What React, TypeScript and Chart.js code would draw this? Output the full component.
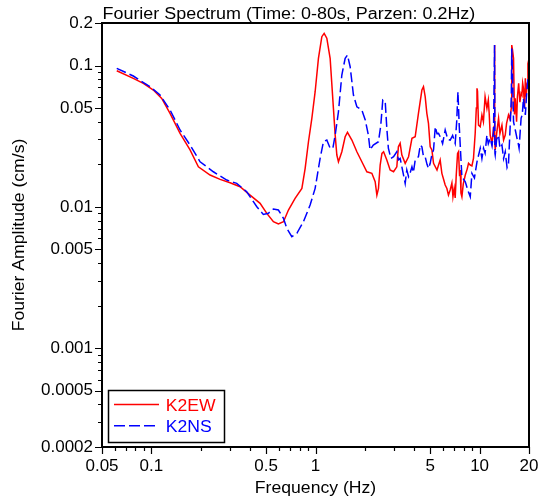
import React, { useEffect, useRef } from 'react';
import { Chart, registerables } from 'chart.js';

Chart.register(...registerables);

const chartTitle = 'Fourier Spectrum (Time: 0-80s, Parzen: 0.2Hz)';
const xAxisTitle = 'Frequency (Hz)';
const yAxisTitle = 'Fourier Amplitude (cm/s)';
const seriesNames = ['K2EW', 'K2NS'];

const ewFreq = [
  0.0615, 0.0776, 0.0893, 0.1028, 0.1156, 0.1299, 0.1495, 0.172, 0.1933, 0.2278,
  0.2622, 0.3017, 0.347, 0.3994, 0.4596, 0.505, 0.554, 0.594, 0.638, 0.684,
  0.751, 0.826, 0.865, 0.906, 0.95, 0.995, 1.042, 1.093, 1.129, 1.172,
  1.228, 1.286, 1.318, 1.349, 1.38, 1.447, 1.516, 1.566, 1.666, 1.787,
  1.916, 2.056, 2.205, 2.31, 2.366, 2.42, 2.478, 2.54, 2.6, 2.72,
  2.85, 2.99, 3.13, 3.2, 3.28, 3.36, 3.52, 3.69, 3.87, 4.05,
  4.24, 4.45, 4.55, 4.66, 4.77, 4.88, 5.0, 5.12, 5.24, 5.5,
  5.75, 5.89, 6.05, 6.17, 6.32, 6.46, 6.62, 6.78, 6.88, 7.0,
  7.1, 7.2, 7.34, 7.44, 7.55, 7.62, 7.7, 7.8, 7.95, 8.18,
  8.4, 8.56, 8.77, 8.98, 9.18, 9.4, 9.55, 9.64, 9.71, 9.85,
  10.09, 10.33, 10.55, 10.8, 11.08, 11.3, 11.45, 11.6, 11.9, 12.16,
  12.3, 12.33, 12.38, 12.45, 12.7, 13.05, 13.3, 13.68, 14.0, 14.33,
  14.6, 15.0, 15.3, 15.6, 15.7, 15.85, 16.1, 16.3, 16.5, 16.8,
  17.0, 17.3, 17.6, 17.9, 18.1, 18.3, 18.5, 18.8, 19.0, 19.2,
  19.5, 19.7, 19.9,
];
const ewAmp = [
  0.0919, 0.0812, 0.0749, 0.0671, 0.0586, 0.0459, 0.0331, 0.0253, 0.0192, 0.0168,
  0.01566, 0.01482, 0.01389, 0.01212, 0.0106, 0.009, 0.00785, 0.00756, 0.00785, 0.0095,
  0.0115, 0.01352, 0.01874, 0.0289, 0.0423, 0.0653, 0.1125, 0.16, 0.169, 0.156,
  0.1125, 0.0498, 0.0322, 0.02327, 0.02085, 0.02456, 0.03135, 0.0337, 0.0297, 0.02456,
  0.02085, 0.01772, 0.01727, 0.01506, 0.01212, 0.01352, 0.01977, 0.0239, 0.02456, 0.02144,
  0.01824, 0.01772, 0.0192, 0.0266, 0.02816, 0.02327, 0.02033, 0.02264, 0.03055, 0.03135,
  0.0459, 0.0671, 0.0708, 0.0602, 0.0459, 0.039, 0.0266, 0.0253, 0.02033, 0.01824,
  0.02144, 0.01727, 0.0155, 0.01428, 0.0135, 0.01212, 0.01316, 0.01475, 0.0118, 0.0135,
  0.01155, 0.0165, 0.0239, 0.02456, 0.0165, 0.01824, 0.0125, 0.0118, 0.0145, 0.0168,
  0.0185, 0.02033, 0.01977, 0.0195, 0.02216, 0.0331, 0.05, 0.069, 0.066, 0.0379,
  0.0369, 0.0447, 0.04, 0.0602, 0.0498, 0.057, 0.045, 0.0322, 0.02816, 0.0361,
  0.035, 0.14, 0.03, 0.0253, 0.033, 0.0423, 0.033, 0.0379, 0.0297, 0.0322,
  0.039, 0.0447, 0.042, 0.05, 0.1397, 0.13, 0.1125, 0.045, 0.0586, 0.04,
  0.06, 0.0749, 0.055, 0.0636, 0.0619, 0.075, 0.069, 0.05, 0.0812, 0.0602,
  0.075, 0.0981, 0.093,
];

const nsFreq = [
  0.0615, 0.0776, 0.0981, 0.1129, 0.1299, 0.1495, 0.172, 0.198, 0.2386, 0.288,
  0.331, 0.381, 0.439, 0.481, 0.516, 0.554, 0.594, 0.638, 0.669, 0.717,
  0.77, 0.844, 0.927, 0.995, 1.067, 1.118, 1.172, 1.228, 1.276, 1.318,
  1.38, 1.447, 1.516, 1.566, 1.626, 1.703, 1.787, 1.916, 2.01, 2.1,
  2.15, 2.25, 2.42, 2.5, 2.57, 2.66, 2.72, 2.78, 2.88, 2.99,
  3.13, 3.2, 3.28, 3.36, 3.45, 3.52, 3.6, 3.69, 3.78, 3.87,
  3.95, 4.05, 4.24, 4.35, 4.45, 4.55, 4.66, 4.78, 4.88, 5.0,
  5.12, 5.24, 5.37, 5.5, 5.62, 5.75, 5.95, 6.17, 6.4, 6.62,
  6.85, 7.1, 7.25, 7.38, 7.51, 7.65, 7.8, 8.18, 8.5, 8.77,
  8.98, 9.3, 9.64, 10.09, 10.33, 10.57, 10.8, 11.08, 11.3, 11.6,
  11.9, 12.16, 12.33, 12.4, 12.45, 12.7, 13.05, 13.3, 13.68, 14.0,
  14.33, 14.7, 15.0, 15.37, 15.6, 15.7, 15.85, 16.1, 16.5, 16.9,
  17.2, 17.4, 17.9, 18.2, 18.5, 19.0, 19.3, 19.7, 20,
];
const nsAmp = [
  0.0956, 0.0843, 0.0708, 0.0619, 0.0485, 0.035, 0.0274, 0.02085, 0.01772, 0.01548,
  0.01467, 0.0128, 0.01002, 0.00885, 0.009, 0.00966, 0.0095, 0.0083, 0.00705, 0.00615,
  0.0065, 0.00785, 0.0103, 0.01352, 0.02205, 0.0289, 0.0297, 0.026, 0.026, 0.0322,
  0.0471, 0.0857, 0.1125, 0.1187, 0.0981, 0.0619, 0.0511, 0.0485, 0.0412, 0.0322,
  0.0253, 0.0274, 0.0289, 0.0379, 0.057, 0.0555, 0.036, 0.026, 0.02205, 0.02264,
  0.02456, 0.0215, 0.02205, 0.0192, 0.0165, 0.01467, 0.01824, 0.01634, 0.0175, 0.0192,
  0.0175, 0.02144, 0.02264, 0.0274, 0.0266, 0.02264, 0.0226, 0.02, 0.01874, 0.02033,
  0.0235, 0.0253, 0.0369, 0.033, 0.0331, 0.03135, 0.028, 0.035, 0.03, 0.0297,
  0.032, 0.02816, 0.04, 0.0653, 0.0379, 0.025, 0.01634, 0.01506, 0.013, 0.0118,
  0.01727, 0.016, 0.02085, 0.026, 0.022, 0.026, 0.024, 0.0322, 0.028, 0.03055,
  0.027, 0.034, 0.1397, 0.024, 0.02327, 0.03, 0.0322, 0.026, 0.0274, 0.022,
  0.02456, 0.019, 0.02033, 0.0379, 0.06, 0.132, 0.09, 0.04, 0.035, 0.03055,
  0.028, 0.026, 0.0423, 0.045, 0.0586, 0.0447, 0.06, 0.0812, 0.085,
];

const xTickLabels = [0.05, 0.1, 0.5, 1, 5, 10, 20];
const xMinorTicks = [0.06, 0.07, 0.08, 0.09, 0.2, 0.3, 0.4, 0.6, 0.7, 0.8, 0.9, 2, 3, 4, 6, 7, 8, 9];
const yTickLabels = [0.2, 0.1, 0.05, 0.01, 0.005, 0.001, 0.0005, 0.0002];
const yMinorTicks = [
  0.09, 0.08, 0.07, 0.06, 0.04, 0.03, 0.02,
  0.009, 0.008, 0.007, 0.006, 0.004, 0.003, 0.002,
  0.0009, 0.0008, 0.0007, 0.0006, 0.0004, 0.0003,
];

const FONT = '"Liberation Sans", Arial, sans-serif';
const RED = '#ff0000';
const BLUE = '#0000ff';

function stretchedText(
  ctx: CanvasRenderingContext2D,
  text: string,
  x: number,
  y: number,
  align: CanvasTextAlign,
  rotate = 0,
  stretch = 1.1
) {
  ctx.save();
  ctx.translate(x, y);
  if (rotate) ctx.rotate(rotate);
  ctx.scale(stretch, 1);
  ctx.textAlign = align;
  ctx.textBaseline = 'alphabetic';
  ctx.fillText(text, 0, 0);
  ctx.restore();
}

const framePlugin = {
  id: 'framePlugin',
  afterDraw(chart: any) {
    const { ctx, chartArea } = chart;
    const { left, right, top, bottom } = chartArea;
    const xs = chart.scales.x;
    const ys = chart.scales.y;
    ctx.save();
    ctx.strokeStyle = '#000';
    ctx.lineWidth = 2;
    ctx.strokeRect(left, top, right - left, bottom - top);

    ctx.lineWidth = 1.2;
    ctx.beginPath();
    yTickLabels.forEach((v) => {
      const py = Math.round(ys.getPixelForValue(v)) + 0.5;
      ctx.moveTo(left - 7, py);
      ctx.lineTo(left, py);
    });
    yMinorTicks.forEach((v) => {
      const py = Math.round(ys.getPixelForValue(v)) + 0.5;
      ctx.moveTo(left - 4, py);
      ctx.lineTo(left, py);
    });
    xTickLabels.forEach((v) => {
      const px = Math.round(xs.getPixelForValue(v)) + 0.5;
      ctx.moveTo(px, bottom);
      ctx.lineTo(px, bottom + 7);
    });
    xMinorTicks.forEach((v) => {
      const px = Math.round(xs.getPixelForValue(v)) + 0.5;
      ctx.moveTo(px, bottom);
      ctx.lineTo(px, bottom + 4);
    });
    ctx.stroke();

    ctx.fillStyle = '#000';
    ctx.font = `16px ${FONT}`;
    stretchedText(ctx, chartTitle, left + 0.5, top - 4, 'left', 0, 1.12);
    stretchedText(ctx, xAxisTitle, (left + right) / 2, bottom + 46, 'center');
    stretchedText(ctx, yAxisTitle, 23.5, (top + bottom) / 2, 'center', -Math.PI / 2);

    // legend box
    const bx = left + 6;
    const by = bottom - 57;
    ctx.lineWidth = 1.5;
    ctx.strokeStyle = '#000';
    ctx.strokeRect(bx + 0.5, by + 0.5, 116, 52);

    ctx.lineWidth = 1.5;
    ctx.strokeStyle = RED;
    ctx.beginPath();
    ctx.moveTo(bx + 6, by + 14.5);
    ctx.lineTo(bx + 51, by + 14.5);
    ctx.stroke();
    ctx.strokeStyle = BLUE;
    ctx.setLineDash([11, 4]);
    ctx.beginPath();
    ctx.moveTo(bx + 6, by + 35.7);
    ctx.lineTo(bx + 51, by + 35.7);
    ctx.stroke();
    ctx.setLineDash([]);

    ctx.fillStyle = RED;
    stretchedText(ctx, seriesNames[0], bx + 57.7, by + 20.7, 'left');
    ctx.fillStyle = BLUE;
    stretchedText(ctx, seriesNames[1], bx + 57.7, by + 41.7, 'left');
    ctx.restore();
  },
};

export default function App() {
  const canvasRef = useRef<HTMLCanvasElement | null>(null);

  useEffect(() => {
    if (!canvasRef.current) return;
    const chart = new Chart(canvasRef.current, {
      type: 'line',
      data: {
        datasets: [
          {
            label: seriesNames[0],
            data: ewFreq.map((f, i) => ({ x: f, y: ewAmp[i] })),
            borderColor: RED,
            backgroundColor: RED,
            borderWidth: 1.5,
            pointRadius: 0,
            fill: false,
            tension: 0,
            order: 1,
          },
          {
            label: seriesNames[1],
            data: nsFreq.map((f, i) => ({ x: f, y: nsAmp[i] })),
            borderColor: BLUE,
            backgroundColor: BLUE,
            borderWidth: 1.5,
            borderDash: [10, 4],
            pointRadius: 0,
            fill: false,
            tension: 0,
            order: 0,
          },
        ],
      },
      options: {
        animation: false,
        responsive: true,
        maintainAspectRatio: false,
        devicePixelRatio: 1,
        layout: { autoPadding: false, padding: { top: 23, right: 10, bottom: 0, left: 0 } },
        plugins: {
          legend: { display: false },
          title: { display: false },
          tooltip: { enabled: false },
        },
        scales: {
          x: {
            type: 'logarithmic',
            min: 0.05,
            max: 20,
            afterBuildTicks: (s: any) => {
              s.ticks = xTickLabels.map((v) => ({ value: v }));
            },
            afterFit: (s: any) => {
              s.height = 52;
              s.paddingLeft = 0;
              s.paddingRight = 0;
              s.paddingTop = 0;
              s.paddingBottom = 0;
            },
            grid: { display: false, drawTicks: false },
            border: { display: false },
            ticks: {
              autoSkip: false,
              maxRotation: 0,
              minRotation: 0,
              padding: 9,
              color: '#000',
              font: { family: FONT, size: 17 },
              callback: (v: any) => String(v),
            },
          },
          y: {
            type: 'logarithmic',
            min: 0.0002,
            max: 0.2,
            afterBuildTicks: (s: any) => {
              s.ticks = yTickLabels.map((v) => ({ value: v }));
            },
            afterFit: (s: any) => {
              s.width = 102;
              s.paddingLeft = 0;
              s.paddingRight = 0;
              s.paddingTop = 0;
              s.paddingBottom = 0;
            },
            grid: { display: false, drawTicks: false },
            border: { display: false },
            ticks: {
              autoSkip: false,
              padding: 9,
              color: '#000',
              font: { family: FONT, size: 17 },
              callback: (v: any) => String(v),
            },
          },
        },
      },
      plugins: [framePlugin],
    } as any);
    return () => chart.destroy();
  }, []);

  return (
    <div style={{ position: 'fixed', left: 0, top: 0, width: 539, height: 499, background: '#fff' }}>
      <canvas ref={canvasRef} />
    </div>
  );
}
